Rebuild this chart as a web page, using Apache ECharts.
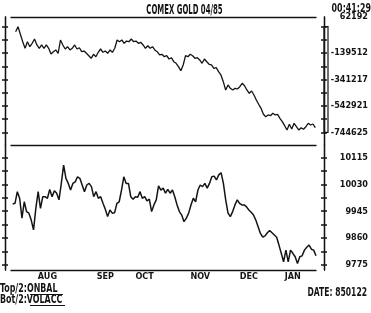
<!DOCTYPE html>
<html>
<head>
<meta charset="utf-8">
<script src="https://cdn.jsdelivr.net/npm/echarts@6/dist/echarts.min.js"></script>
<style>
html,body{margin:0;padding:0;background:#fff;}
#c{width:371px;height:313px;}
</style>
</head>
<body>
<div id="c"></div>
<script>
// ---- data ----
const titleText = 'COMEX GOLD 04/85';
const timeText = '00:41:29';
const dateText = 'DATE: 850122';
const topName = 'ONBAL';
const botName = 'VOLACC';

// Top panel: on-balance volume (daily points)
const topValues = [
  24000, 62000, 4000, -52400, -102800, -52400, -90600, -64600, -31800, -77600,
  -102800, -77600, -102800, -77600, -102800, -146400, -128800, -115800, -141000, -39400,
  -77600, -108200, -90600, -115800, -102800, -77600, -108200, -98300, -128800, -123500,
  -141000, -159400, -179200, -148700, -167000, -133400, -108200, -133400, -123500, -141000,
  -115800, -133400, -102800, -39400, -52400, -39400, -64600, -47100, -52400, -31800,
  -52400, -47100, -64600, -57000, -77600, -102800, -83000, -102800, -90600, -115800,
  -128800, -154000, -148700, -167000, -159400, -184600, -174700, -205200, -217400, -243400,
  -274000, -230400, -159400, -167000, -148700, -159400, -179200, -174700, -192200, -217400,
  -184600, -205200, -225100, -230400, -255600, -251100, -281600, -306800, -358000, -421400,
  -383200, -408500, -421400, -408500, -413800, -396200, -370200, -388600, -421400, -446700,
  -429100, -459600, -497800, -530700, -561300, -607100, -625400, -612400, -617800, -599500,
  -612400, -607100, -637700, -663600, -694200, -727100, -683500, -719400, -675900, -701800,
  -727100, -709500, -721700, -701800, -675900, -688800, -681200, -709500
];

// Bottom panel: volume accumulation (daily points)
const botValues = [
  9968, 9970, 10007, 9986, 9923, 9975, 9944, 9939, 9917, 9886,
  9954, 10007, 9954, 9991, 9991, 9986, 10014, 9991, 10010, 10002,
  9981, 10033, 10091, 10049, 10033, 10012, 10033, 10038, 10054, 10049,
  10028, 10007, 10028, 10033, 10023, 9991, 10007, 9986, 9991, 9970,
  9951, 9928, 9949, 9939, 9940, 9970, 9975, 10012, 10054, 10033,
  10033, 9991, 9983, 9991, 9989, 10007, 9986, 9991, 9978, 9983,
  9944, 9965, 9981, 10025, 10012, 10018, 10002, 10014, 10002, 10012,
  9991, 9965, 9944, 9933, 9912, 9923, 9939, 9965, 9986, 9975,
  10012, 10028, 10023, 10033, 10018, 10033, 10054, 10056, 10044, 10060,
  10067, 10033, 9981, 9939, 9928, 9944, 9965, 9981, 9970, 9965,
  9965, 9959, 9949, 9942, 9933, 9917, 9896, 9875, 9863, 9867,
  9877, 9884, 9877, 9870, 9863, 9838, 9812, 9785, 9822, 9785,
  9822, 9812, 9801, 9780, 9801, 9804, 9822, 9831, 9838, 9825,
  9822, 9804
];

// Axis labels
const monthLabels = ['AUG', 'SEP', 'OCT', 'NOV', 'DEC', 'JAN'];
const monthPos = [15, 40, 57, 81, 102, 121];          // day index of each month label
const topTickLabels = ['62192', '-139512', '-341217', '-542921', '-744625'];
const botTickLabels = ['10115', '10030', '9945', '9860', '9775'];

// ---- chart ----
const F = '"DejaVu Sans Condensed","DejaVu Sans",sans-serif';
const INK = '#141414';

const topTickVals = topTickLabels.map(Number);
const botTickVals = botTickLabels.map(Number);
function withHalves(vals) {
  const out = [];
  for (let i = 0; i < vals.length; i++) {
    out.push(vals[i]);
    if (i < vals.length - 1) out.push((vals[i] + vals[i + 1]) / 2);
  }
  return out;
}
const topTicks = withHalves(topTickVals);
const botTicks = withHalves(botTickVals);

const TOP_MIN = -841655, TOP_MAX = 136303;
const BOT_MIN = 9759.2, BOT_MAX = 10154.5;

function yAxisDef(grid, pos, inside, min, max, ticks, labelVals, labels, firstUp) {
  const ax = {
    type: 'value', gridIndex: grid, position: pos, min: min, max: max,
    offset: pos === 'left' ? 6 : 8,
    axisLine: { show: true, onZero: false, lineStyle: { color: INK, width: 1.3 } },
    axisTick: { show: true, inside: inside, length: 3, customValues: ticks,
                lineStyle: { color: INK, width: 1.5 } },
    splitLine: { show: false },
    axisLabel: { show: false }
  };
  if (labelVals) {
    ax.axisLabel = {
      show: true, customValues: labelVals, align: 'right', margin: 44,
      fontFamily: F, fontWeight: 'bold', fontSize: 9, color: INK,
      formatter: function (v) {
        const i = labelVals.indexOf(v);
        const s = i >= 0 ? labels[i] : '';
        return (firstUp && i === 0) ? '{up|' + s + '}' : s;
      },
      rich: { up: { fontFamily: F, fontWeight: 'bold', fontSize: 9, color: INK, padding: [0, 0, 20, 0] } }
    };
  }
  return ax;
}

function xLineAxis(grid, pos, min, max) {
  return {
    type: 'value', gridIndex: grid, position: pos, min: min, max: max,
    axisLine: { show: true, onZero: false, lineStyle: { color: INK, width: 1.3 } },
    axisTick: { show: false }, axisLabel: { show: false }, splitLine: { show: false }
  };
}

const TOP_XMIN = -1.97, TOP_XMAX = 127.29;
const BOT_XMIN = -0.73, BOT_XMAX = 131;

const bottomX = xLineAxis(1, 'bottom', BOT_XMIN, BOT_XMAX);
bottomX.axisLabel = {
  show: true, customValues: monthPos, margin: 2,
  fontFamily: F, fontWeight: 'bold', fontSize: 9, color: INK,
  formatter: function (v) { const i = monthPos.indexOf(v); return i >= 0 ? monthLabels[i] : ''; }
};

const chart = echarts.init(document.getElementById('c'), null, { renderer: 'canvas' });
chart.setOption({
  animation: false,
  backgroundColor: '#ffffff',
  grid: [
    { left: 11, right: 52, top: 17, height: 128 },
    { left: 11, right: 52, top: 145, height: 125 }
  ],
  xAxis: [
    xLineAxis(0, 'top', TOP_XMIN, TOP_XMAX),
    xLineAxis(0, 'bottom', TOP_XMIN, TOP_XMAX),
    bottomX
  ],
  yAxis: [
    yAxisDef(0, 'left', false, TOP_MIN, TOP_MAX, topTicks),
    yAxisDef(0, 'left', true, TOP_MIN, TOP_MAX, topTicks),
    yAxisDef(0, 'right', false, TOP_MIN, TOP_MAX, topTicks, topTickVals, topTickLabels, true),
    yAxisDef(0, 'right', true, TOP_MIN, TOP_MAX, topTicks),
    yAxisDef(1, 'left', false, BOT_MIN, BOT_MAX, botTicks),
    yAxisDef(1, 'left', true, BOT_MIN, BOT_MAX, botTicks),
    yAxisDef(1, 'right', false, BOT_MIN, BOT_MAX, botTicks, botTickVals, botTickLabels, false),
    yAxisDef(1, 'right', true, BOT_MIN, BOT_MAX, botTicks)
  ],
  series: [
    { name: topName, type: 'line', xAxisIndex: 0, yAxisIndex: 0, symbol: 'none',
      data: topValues.map((v, i) => [i, v]),
      lineStyle: { color: INK, width: 1.3 } },
    { name: botName, type: 'line', xAxisIndex: 2, yAxisIndex: 4, symbol: 'none',
      data: botValues.map((v, i) => [i, v]),
      lineStyle: { color: INK, width: 1.5 } }
  ]
});

// decorations positioned through the chart's own scales
const pTop = chart.convertToPixel({ xAxisIndex: 0, yAxisIndex: 2 }, [TOP_XMAX, topTickVals[0]]);
const pBot = chart.convertToPixel({ xAxisIndex: 0, yAxisIndex: 2 }, [TOP_XMAX, topTickVals[topTickVals.length - 1]]);
const axisX = pTop[0] + 8;
function label(text, x, y, align, sx, sy) {
  return { type: 'text', x: x, y: y, scaleX: sx, scaleY: sy, z: 10,
    style: { text: text, fontFamily: F, fontWeight: 'bold', fontSize: 11, fill: INK,
             align: align, verticalAlign: 'middle' } };
}
chart.setOption({
  graphic: [
    { type: 'rect', shape: { x: axisX, y: pTop[1], width: 4, height: pBot[1] - pTop[1] },
      style: { fill: 'none', stroke: INK, lineWidth: 1.2 } },
    label(titleText, 184.5, 11, 'center', 0.7, 1.2),
    label(timeText, 371, 9, 'right', 0.8, 1.05),
    label('Top/2:' + topName, 0, 289, 'left', 0.8, 1.05),
    label('Bot/2:' + botName, 0, 300, 'left', 0.8, 1.05),
    { type: 'line', shape: { x1: 30, y1: 294.5, x2: 63, y2: 294.5 }, style: { stroke: INK, lineWidth: 1.2 } },
    { type: 'line', shape: { x1: 30, y1: 305.5, x2: 65, y2: 305.5 }, style: { stroke: INK, lineWidth: 1.2 } },
    label(dateText, 367, 293, 'right', 0.77, 1.1)
  ]
});
</script>
</body>
</html>
